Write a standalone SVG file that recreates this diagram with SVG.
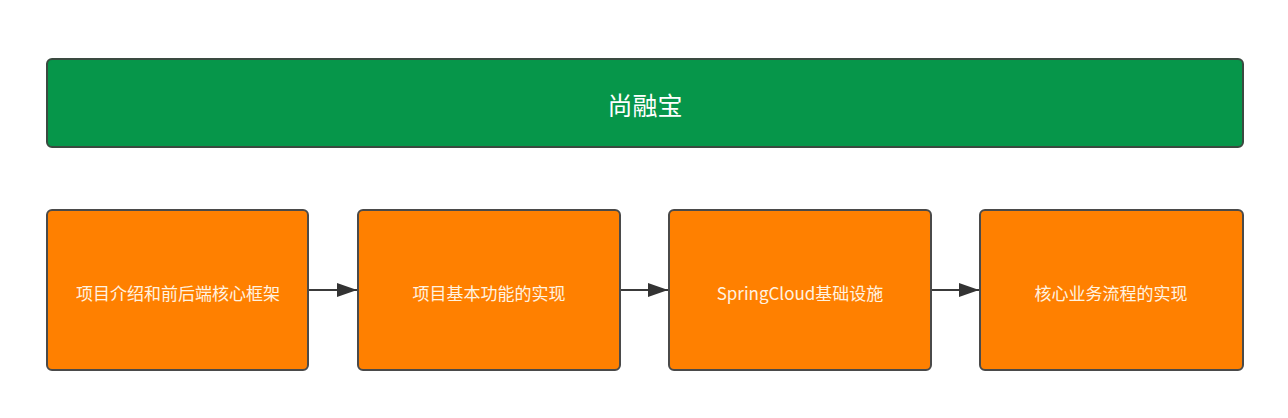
<svg xmlns="http://www.w3.org/2000/svg" width="1288" height="418" viewBox="0 0 1288 418">
<style>
.box{fill:#ff8000;stroke:#4a4a4a;stroke-width:2}
.top{fill:#06964a;stroke:#3a4a40;stroke-width:2}
.lbl{font-family:"Noto Sans CJK SC","Liberation Sans",sans-serif;font-size:17px;fill:#fff3e0;text-anchor:middle;dominant-baseline:central}
.ttl{font-family:"Noto Sans CJK SC","Liberation Sans",sans-serif;font-size:25px;fill:#ffffff;text-anchor:middle;dominant-baseline:central}
.edge{stroke:#3a3a3a;stroke-width:2;fill:none}
</style>
<defs>
<marker id="arr" markerWidth="20" markerHeight="14" refX="20" refY="7" orient="auto" markerUnits="userSpaceOnUse" viewBox="0 0 20 14">
<path d="M0,0 L20,7 L0,14 z" fill="#333"/>
</marker>
</defs>
<rect width="1288" height="418" fill="#ffffff"/>
<g id="node-top">
<rect class="top" x="47" y="59" width="1196" height="88" rx="5"/>
<text class="ttl" x="645" y="104">尚融宝</text>
</g>
<g id="node-1">
<rect class="box" x="47" y="210" width="261" height="160" rx="5"/>
<text class="lbl" x="178" y="292">项目介绍和前后端核心框架</text>
</g>
<g id="node-2">
<rect class="box" x="358" y="210" width="262" height="160" rx="5"/>
<text class="lbl" x="489" y="292">项目基本功能的实现</text>
</g>
<g id="node-3">
<rect class="box" x="669" y="210" width="262" height="160" rx="5"/>
<text class="lbl" x="800" y="292">SpringCloud基础设施</text>
</g>
<g id="node-4">
<rect class="box" x="980" y="210" width="263" height="160" rx="5"/>
<text class="lbl" x="1111" y="292">核心业务流程的实现</text>
</g>
<g id="connectors">
<line class="edge" x1="309" y1="290" x2="357" y2="290" marker-end="url(#arr)"/>
<line class="edge" x1="621" y1="290" x2="668" y2="290" marker-end="url(#arr)"/>
<line class="edge" x1="932" y1="290" x2="979" y2="290" marker-end="url(#arr)"/>
</g>
</svg>
